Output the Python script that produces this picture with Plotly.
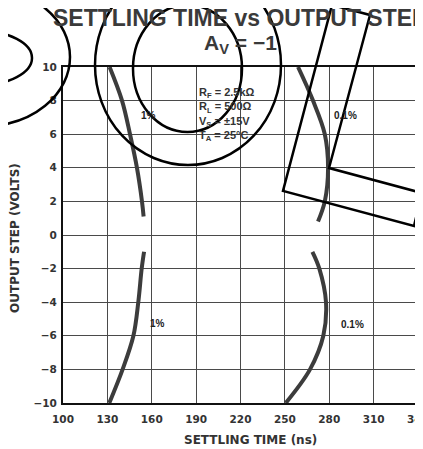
import plotly.graph_objects as go

# ---- data ----
upper_1pct_time = [131.5, 139.9, 145.3, 150.0, 153.4, 154.5]
upper_1pct_step = [10.0, 8.0, 6.0, 4.0, 2.0, 1.1]
upper_01pct_time = [258.9, 269.0, 277.0, 279.2, 277.0, 272.4]
upper_01pct_step = [10.0, 8.0, 6.0, 4.0, 2.0, 0.8]
lower_1pct_time = [154.8, 153.2, 150.9, 147.6, 140.3, 131.3]
lower_1pct_step = [-1.0, -2.0, -4.0, -6.0, -8.0, -10.0]
lower_01pct_time = [268.6, 273.3, 277.8, 276.0, 267.0, 250.6]
lower_01pct_step = [-1.0, -2.0, -4.0, -6.0, -8.0, -10.0]

x_ticks = [100, 130, 160, 190, 220, 250, 280, 310, 340]
y_ticks = [-10, -8, -6, -4, -2, 0, 2, 4, 6, 8, 10]

curve_labels = [("1%", 157.5, 7.1), ("0.1%", 290.7, 7.1),
                ("1%", 163.6, -5.25), ("0.1%", 295.4, -5.35)]

# ---- layout geometry (pixels, in page coordinates; page body has an 8px margin) ----
OFF = 8
W, H = 440 - OFF, 449 - OFF
L, T, B = 63 - OFF, 67 - OFF, 46
PW = 355
R = W - L - PW
PH = H - T - B

def px(x):
    return (x - OFF - L) / PW

def py(y):
    return (H - B - (y - OFF)) / PH

FONT = "Liberation Sans, Arial, sans-serif"
WIDE = "DejaVu Sans, sans-serif"
CURVE = "#3c3c3c"
TEXT = "#333"

fig = go.Figure()
for xs, ys in [(upper_1pct_time, upper_1pct_step), (upper_01pct_time, upper_01pct_step),
               (lower_1pct_time, lower_1pct_step), (lower_01pct_time, lower_01pct_step)]:
    fig.add_trace(go.Scatter(x=xs, y=ys, mode="lines",
                             line=dict(color=CURVE, width=4, shape="spline", smoothing=1.0),
                             showlegend=False, hoverinfo="skip"))

annotations = []
for txt, x, y in curve_labels:
    annotations.append(dict(x=x, y=y, xref="x", yref="y", text=txt, showarrow=False,
                            font=dict(family=FONT, size=10, color="#222", weight="bold")))

annotations.append(dict(x=px(240), y=py(18), xref="paper", yref="paper",
                        text="SETTLING TIME vs OUTPUT STEP", showarrow=False,
                        xanchor="center", yanchor="middle",
                        font=dict(family=FONT, size=23, color="#3a3a3a", weight="bold")))
annotations.append(dict(x=px(240), y=py(44), xref="paper", yref="paper",
                        text="A<sub>V</sub> = −1", showarrow=False,
                        xanchor="center", yanchor="middle",
                        font=dict(family=FONT, size=21, color="#3a3a3a", weight="bold")))
annotations.append(dict(x=px(197), y=py(84), xref="paper", yref="paper",
                        text="R<sub>F</sub> = 2.5kΩ<br>R<sub>L</sub> = 500Ω<br>V<sub>S</sub> = ±15V<br>T<sub>A</sub> = 25°C",
                        showarrow=False, xanchor="left", yanchor="top", align="left",
                        font=dict(family=FONT, size=11, color=TEXT, weight="bold")))
# axis titles
annotations.append(dict(x=px(250), y=py(440), xref="paper", yref="paper",
                        text="SETTLING TIME (ns)", showarrow=False,
                        xanchor="center", yanchor="middle",
                        font=dict(family=WIDE, size=12, color=TEXT, weight="bold")))
annotations.append(dict(x=px(15), y=py(238), xref="paper", yref="paper",
                        text="OUTPUT STEP (VOLTS)", showarrow=False, textangle=-90,
                        xanchor="center", yanchor="middle",
                        font=dict(family=WIDE, size=12, color=TEXT, weight="bold")))

# ---- overlay scribbles (decorative, page pixel positions) ----
ellipses = [(-100, 70, -12, 126), (-72, 32, 31, 85), (95, 281, -35, 165), (133, 242, 5, 132)]
lshape = [(332, 5), (370, 15), (329, 168), (422, 193), (414, 226), (283, 191)]
shapes = []
for x0, x1, y0, y1 in ellipses:
    shapes.append(dict(type="circle", xref="paper", yref="paper",
                       x0=px(x0), x1=px(x1), y0=py(y1), y1=py(y0),
                       line=dict(color="black", width=2.5)))
path = "M " + " L ".join(f"{px(a):.4f},{py(b):.4f}" for a, b in lshape) + " Z"
shapes.append(dict(type="path", xref="paper", yref="paper", path=path,
                   line=dict(color="black", width=2.5)))

axis_common = dict(showgrid=True, gridcolor="#4a4a4a", gridwidth=1.2,
                   showline=True, linecolor="#111", linewidth=2, mirror=True,
                   zeroline=False, ticks="", ticklabeloverflow="allow",
                   tickfont=dict(family=WIDE, size=10.5, color=TEXT, weight="bold"))

fig.update_layout(
    width=W, height=H, margin=dict(l=L, r=R, t=T, b=B),
    paper_bgcolor="white", plot_bgcolor="white",
    xaxis=dict(range=[100, 340], tickvals=x_ticks, ticktext=[str(v) for v in x_ticks],
               ticklabelstandoff=5, **axis_common),
    yaxis=dict(range=[-10, 10], tickvals=y_ticks, ticklabelstandoff=2, **axis_common),
    annotations=annotations, shapes=shapes,
)

fig.write_html("out.html")
